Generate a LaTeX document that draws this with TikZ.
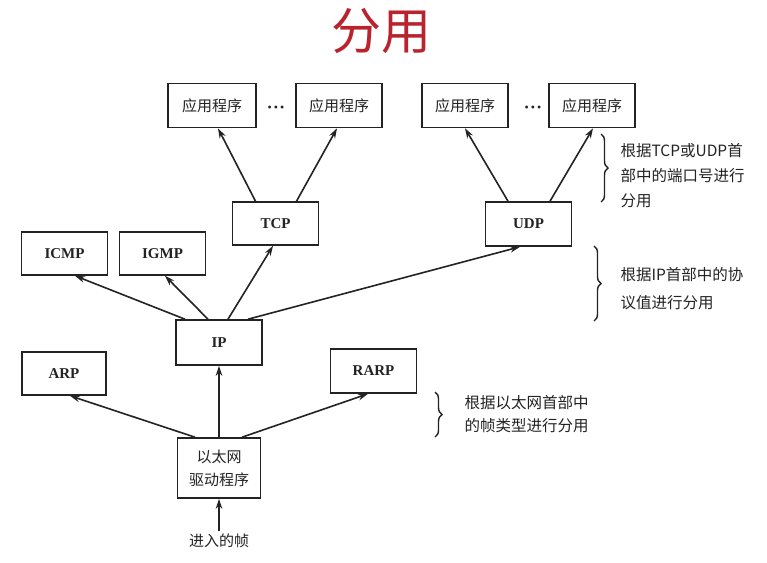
\documentclass[tikz,border=0pt]{standalone}
\usepackage{fontspec}
\setmainfont{Liberation Serif}
\newfontfamily\cjk{Noto Sans CJK SC}
\usepackage{tikz}
\usetikzlibrary{arrows.meta,decorations.pathreplacing}
\definecolor{titlered}{RGB}{185,35,45}
\definecolor{inkgray}{RGB}{35,35,35}
\tikzset{
  flow/.style={-{Stealth[length=10pt,width=6.5pt]},draw=inkgray,line width=1.6pt},
  proto/.style={draw=inkgray,line width=1.6pt,minimum width=86pt,minimum height=44pt,
                inner sep=0pt,align=center,text=inkgray,font=\fontsize{15}{20}\selectfont\bfseries},
  app/.style={proto,font=\fontsize{15}{20}\selectfont\cjk},
  dots/.style={text=inkgray,font=\fontsize{12}{14}\selectfont},
  demux/.style={decorate,decoration={brace,amplitude=7pt},draw=inkgray,line width=1.4pt},
  note/.style={anchor=west,align=left,text=inkgray,font=\fontsize{15.5}{25}\selectfont\cjk},
}

\begin{document}
\begin{tikzpicture}[x=1pt,y=-1pt]
  \useasboundingbox[fill=white] (0,0) rectangle (767,562);
  \node[text=titlered,font=\fontsize{50}{56}\selectfont\cjk] (title) at (381,31) {分用};

  % applications
  \node[app,minimum width=88pt] (app1) at (212,105.5) {应用程序};
  \node[app] (app2) at (339,105.5) {应用程序};
  \node[app] (app3) at (465,105.5) {应用程序};
  \node[app] (app4) at (592,105.5) {应用程序};
  \node[dots] (dotsA) at (276,108.5) {\textbullet\,\textbullet\,\textbullet};
  \node[dots] (dotsB) at (533,108.5) {\textbullet\,\textbullet\,\textbullet};

  % transport and network layer
  \node[proto,minimum height=43pt] (tcp) at (275.5,223.5) {TCP};
  \node[proto] (udp) at (528.5,224) {UDP};
  \node[proto,minimum height=43pt] (icmp) at (64.5,253.5) {ICMP};
  \node[proto,minimum height=43pt] (igmp) at (162.5,253.5) {IGMP};
  \node[proto,minimum height=45pt] (ip) at (219,342.5) {IP};
  \node[proto,minimum width=84pt,minimum height=43pt] (arp) at (64,373.5) {ARP};
  \node[proto] (rarp) at (373.5,371) {RARP};
  \node[proto,minimum width=83pt,minimum height=60pt,font=\fontsize{15}{23}\selectfont\cjk] (eth) at (219,468)
    {以太网\\驱动程序};
  \node[font=\fontsize{15}{20}\selectfont\cjk,text=inkgray] (frame) at (219,541) {进入的帧};

  \draw[flow] ([xshift=-20pt]tcp.north) -- ([xshift=6pt]app1.south);
  \draw[flow] ([xshift=21pt]tcp.north) -- ([xshift=-2pt]app2.south);
  \draw[flow] ([xshift=-20.5pt]udp.north) -- (app3.south);
  \draw[flow] ([xshift=21.5pt]udp.north) -- ([xshift=1pt]app4.south);

  \draw[flow] ([xshift=-34pt]ip.north) -- ([xshift=10.5pt]icmp.south);
  \draw[flow] ([xshift=-11pt]ip.north) -- ([xshift=2.5pt]igmp.south);
  \draw[flow] ([xshift=9pt]ip.north) -- ([xshift=-2.5pt]tcp.south);
  \draw[flow] ([xshift=29pt]ip.north) -- ([xshift=-8.5pt]udp.south);

  \draw[flow] ([xshift=-24pt]eth.north) -- ([xshift=6pt]arp.south);
  \draw[flow] (eth.north) -- (ip.south);
  \draw[flow] ([xshift=23pt]eth.north) -- ([xshift=-5.5pt]rarp.south);
  \draw[flow] (frame.north) -- (eth.south);

  % demultiplexing notes
  \draw[demux] (601,134) -- (601,202);
  \node[note] (noteA) at (617,176) {根据TCP或UDP首\\部中的端口号进行\\分用};
  \draw[demux] (594,246) -- (594,321);
  \node[note,font=\fontsize{15.5}{28}\selectfont\cjk] (noteB) at (617,289) {根据IP首部中的协\\议值进行分用};
  \draw[demux] (435,392) -- (435,437);
  \node[note,font=\fontsize{15.5}{23}\selectfont\cjk] (noteC) at (461,414) {根据以太网首部中\\的帧类型进行分用};
\end{tikzpicture}
\end{document}
